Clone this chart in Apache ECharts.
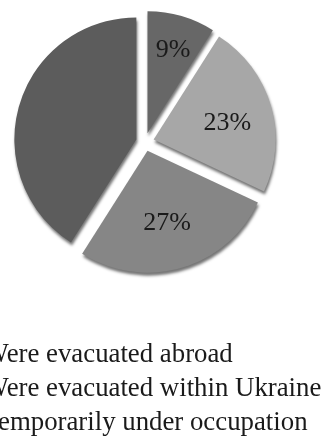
<!DOCTYPE html>
<html>
<head>
<meta charset="utf-8">
<script src="https://cdn.jsdelivr.net/npm/echarts@6/dist/echarts.min.js"></script>
<style>
  html, body { margin: 0; padding: 0; background: #ffffff; }
  #chart { width: 324px; height: 441px; }
</style>
</head>
<body>
<div id="chart"></div>
<script>
// Where people ended up: share of respondents (%)
const categories = [
  'Were evacuated abroad',
  'Were evacuated within Ukraine',
  'Temporarily under occupation',
  'Remained at home'
];
const shares = [9, 23, 27, 41];
const sliceColors = ['#676767', '#a7a7a7', '#868686', '#5c5c5c'];
const showValue = [true, true, true, false];
// how far out (relative to the default inside spot) each value label sits
const labelReach = [1.43, 1.2, 1.1, 1];

const PIE_CENTER = [145, 142];

const chart = echarts.init(document.getElementById('chart'), null, { renderer: 'canvas' });

chart.setOption({
  animation: false,
  legend: {
    data: categories.slice(0, 3),
    orient: 'vertical',
    left: -46.5,
    top: 341.5,
    padding: 0,
    itemWidth: 25,
    itemHeight: 14,
    itemGap: 6.8,
    icon: 'rect',
    selectedMode: false,
    textStyle: { fontFamily: 'Liberation Serif', fontSize: 26.8, color: '#1a1a1a' }
  },
  series: [{
    type: 'pie',
    center: PIE_CENTER,
    radius: 122,
    startAngle: 90,
    clockwise: true,
    selectedMode: 'multiple',
    selectedOffset: 9,
    emphasis: { disabled: true },
    itemStyle: {
      shadowColor: 'rgba(0,0,0,0.55)',
      shadowBlur: 3,
      shadowOffsetX: 1,
      shadowOffsetY: 3
    },
    label: {
      position: 'inside',
      formatter: '{c}%',
      fontFamily: 'Liberation Serif',
      fontSize: 26,
      color: '#1a1a1a'
    },
    labelLine: { show: false },
    labelLayout: function (p) {
      const r = p.labelRect;
      const cx = r.x + r.width / 2;
      const cy = r.y + r.height / 2;
      const k = labelReach[p.dataIndex] - 1;
      return {
        dx: (cx - PIE_CENTER[0]) * k,
        dy: (cy - PIE_CENTER[1]) * k + r.height * 0.2
      };
    },
    data: categories.map((name, i) => ({
      name: name,
      value: shares[i],
      selected: true,
      itemStyle: { color: sliceColors[i] },
      label: { show: showValue[i] }
    }))
  }]
});
</script>
</body>
</html>
